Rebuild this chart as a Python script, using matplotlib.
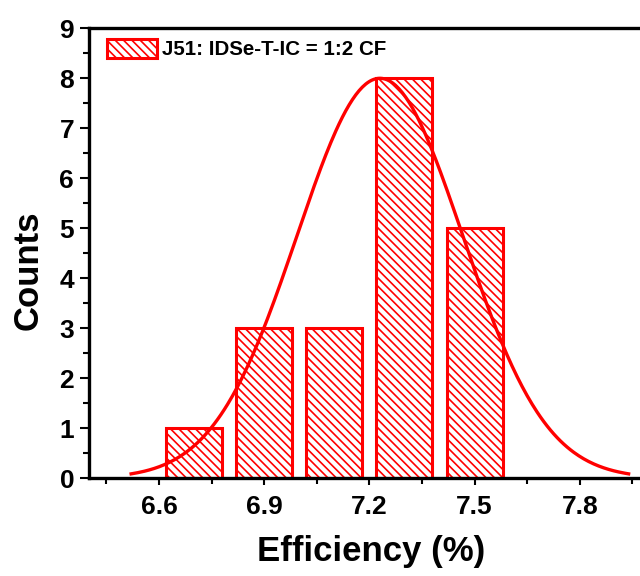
"""Histogram of device efficiency with a normal curve on top."""

import numpy as np
import matplotlib

matplotlib.use("Agg")
from matplotlib import pyplot as plt

# bin centres and counts
bin_centers = [6.7, 6.9, 7.1, 7.3, 7.5]
counts = [1, 3, 3, 8, 5]
x_ticks = [6.6, 6.9, 7.2, 7.5, 7.8]
y_ticks = list(range(0, 10))
legend_label = "J51: IDSe-T-IC = 1:2 CF"

RED = "#ff0000"

plt.rcParams["font.family"] = ["Liberation Sans", "DejaVu Sans"]
plt.rcParams["font.weight"] = "bold"
plt.rcParams["hatch.linewidth"] = 1.2


def normal_curve(centers, weights, amplitude):
    """Gaussian with the mean and spread of the binned data."""
    c = np.asarray(centers, dtype=float)
    w = np.asarray(weights, dtype=float)
    mean = np.sum(c * w) / w.sum()
    sd = np.sqrt(np.sum(w * (c - mean) ** 2) / (w.sum() - 1))
    xs = np.linspace(mean - 3 * sd, mean + 3 * sd, 300)
    ys = amplitude * np.exp(-((xs - mean) ** 2) / (2 * sd**2))
    return xs, ys


fig = plt.figure(figsize=(6.4, 5.76), dpi=100)
ax = fig.add_axes([88.8 / 640, (576 - 478.3) / 576, 551.2 / 640, 450 / 576])

ax.bar(
    bin_centers,
    counts,
    width=0.16,
    color="white",
    edgecolor=RED,
    hatch="\\\\\\\\",
    linewidth=2.2,
    label=legend_label,
    zorder=2,
)

curve_x, curve_y = normal_curve(bin_centers, counts, max(counts))
ax.plot(curve_x, curve_y, color=RED, linewidth=2.4, zorder=3)

ax.set_xlim(6.4, 6.4 + 551.2 / 350.7)
ax.set_ylim(0, 9)
ax.set_xticks(x_ticks)
ax.set_xticklabels([f"{t:.1f}" for t in x_ticks])
ax.set_xticks([t + 0.15 for t in [6.3] + x_ticks], minor=True)
ax.set_yticks(y_ticks)
ax.set_yticks([t + 0.5 for t in y_ticks[:-1]], minor=True)

for side in ["left", "bottom", "top"]:
    ax.spines[side].set_linewidth(2.4)
ax.spines["right"].set_visible(False)

ax.tick_params(axis="both", which="both", direction="out", width=1.5, labelsize=19)
ax.tick_params(axis="x", which="major", length=5, pad=7)
ax.tick_params(axis="x", which="minor", length=4)
ax.tick_params(axis="y", which="major", length=6.5, pad=4)
ax.tick_params(axis="y", which="minor", length=4.3)

ax.set_xlabel("Efficiency (%)", fontsize=25, fontweight="bold", va="baseline")
ax.xaxis.set_label_coords((371.5 - 88.8) / 551.2, (478.3 - 561) / 450)
ax.set_ylabel("Counts", fontsize=25, fontweight="bold", va="center")
ax.yaxis.set_label_coords((28 - 88.8) / 551.2, (478.3 - 270) / 450)

ax.legend(
    loc="upper left",
    bbox_to_anchor=((107 - 88.8) / 551.2, (478.3 - 39) / 450),
    frameon=False,
    fontsize=14.8,
    handlelength=2.44,
    handleheight=1.02,
    handletextpad=0.25,
    borderpad=0,
    borderaxespad=0,
)

fig.savefig("out.png", dpi=100)
plt.close(fig)
